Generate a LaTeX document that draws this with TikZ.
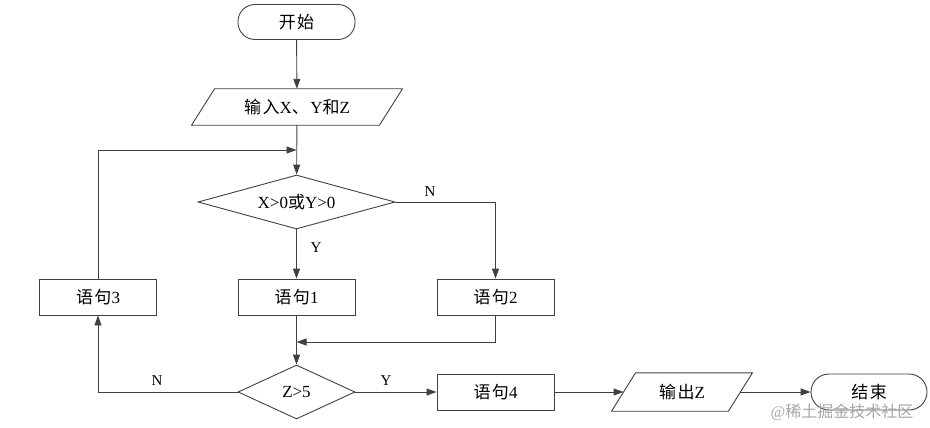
\documentclass[tikz,border=0pt]{standalone}
\usepackage{fontspec}
\setmainfont{Liberation Serif}
\newfontfamily\cjk{Noto Sans CJK SC}
\usetikzlibrary{shapes.geometric,arrows.meta}
\definecolor{ln}{HTML}{404040}
\newcommand{\cs}{\hspace{1.5pt}}
\begin{document}
\begin{tikzpicture}[x=1pt,y=-1pt,
  font=\fontsize{17}{20}\selectfont,
  arr/.style={-{Triangle[length=10pt,width=7pt]},draw=ln,line width=0.9pt},
  term/.style={draw=ln,line width=0.9pt,rectangle,rounded corners=17pt,minimum width=117pt,minimum height=35pt,inner sep=0pt},
  proc/.style={draw=ln,line width=0.9pt,rectangle,minimum width=117pt,minimum height=36pt,inner sep=0pt},
  dec/.style={draw=ln,line width=0.9pt,diamond,inner sep=0pt},
  iobox/.style={rectangle,draw=none,inner sep=0pt},
  para/.style={draw=ln,line width=0.9pt},
  lbl/.style={inner sep=0pt,font=\fontsize{15}{17}\selectfont}]
\useasboundingbox (0,0) rectangle (930,428);

\node[term] (start) at (296.5,22) {{\cjk 开\cs 始}};
\node[iobox,minimum width=187.5pt,minimum height=36pt] (in) at (297,107) {{\cjk 输\cs 入}X{\cjk 、}\cs Y{\cjk 和}Z};
\draw[para] ([xshift=11.5pt]in.north west) -- ([xshift=11.5pt]in.north east) -- ([xshift=-11.5pt]in.south east) -- ([xshift=-11.5pt]in.south west) -- cycle;

\node[dec,aspect=3.65,minimum width=197pt,minimum height=54pt] (d1) at (296.5,202) {X>0{\cjk 或}Y>0};
\node[proc] (s3) at (98,297) {{\cjk 语\cs 句}3};
\node[proc] (s1) at (296.5,297) {{\cjk 语\cs 句}1};
\node[proc] (s2) at (495.5,297) {{\cjk 语\cs 句}2};
\node[dec,aspect=2.17,minimum width=117pt,minimum height=54pt] (d2) at (296.5,392) {Z>5};
\node[proc] (s4) at (495.5,392) {{\cjk 语\cs 句}4};
\node[iobox,minimum width=116.5pt,minimum height=38pt] (out) at (682,392) {{\cjk 输\cs 出}Z};
\draw[para] ([xshift=12pt]out.north west) -- ([xshift=12pt]out.north east) -- ([xshift=-12pt]out.south east) -- ([xshift=-12pt]out.south west) -- cycle;
\node[term,minimum width=116pt,minimum height=36pt,rounded corners=18pt] (end) at (869,392) {{\cjk 结\cs 束}};

\coordinate (j1) at (296.5,150);
\coordinate (j2) at (296.5,342);

\draw[arr] (start) -- (in);
\draw[arr] (in) -- (d1);
\draw[arr] (s3.north) |- (j1);
\draw[arr] (d1.east) -| (s2.north);
\draw[arr] (d1) -- (s1);
\draw[arr] (s1) -- (d2);
\draw[arr] (s2.south) |- (j2);
\draw[arr] (d2.west) -| (s3.south);
\draw[arr] (d2) -- (s4);
\draw[arr] (s4) -- (out);
\draw[arr] (out) -- (end);

\node[lbl] (n1) at (430,192) {N};
\node[lbl] (y1) at (316,248) {Y};
\node[lbl] (n2) at (157,381) {N};
\node[lbl] (y2) at (386,381) {Y};

\node[inner sep=0pt,text=black!35,font=\fontsize{16}{18}\selectfont] (wm) at (842,412) {@{\cjk 稀土掘金技术社区}};
\end{tikzpicture}
\end{document}
